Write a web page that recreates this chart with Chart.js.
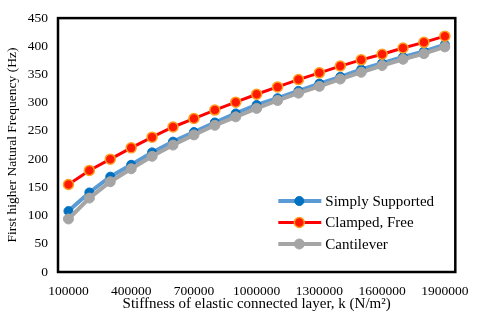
<!DOCTYPE html>
<html>
<head>
<meta charset="utf-8">
<script src="https://cdn.jsdelivr.net/npm/chart.js@4.4.1/dist/chart.umd.min.js"></script>
<style>
html, body { margin:0; padding:0; background:#fff; }
#wrap { width:480px; height:324px; }
</style>
</head>
<body>
<div id="wrap"><canvas id="freq" width="480" height="324"></canvas></div>
<script>
// stiffness k (N/m2)
var stiffness = [100000,200000,300000,400000,500000,600000,700000,800000,900000,1000000,
                 1100000,1200000,1300000,1400000,1500000,1600000,1700000,1800000,1900000];
var simply_supported = [108,141,169,190,212,231,248,265,281,296,308,321,334,346,359,370,381,391,403];
var clamped_free = [155,180,200,220,239,257,272,287,301,315,328,341,353,365,376,386,397,407,418];
var cantilever = [94,131,160,183,205,225,243,260,275,290,304,317,329,342,354,366,377,387,399];
var yTicks = [0,50,100,150,200,250,300,350,400,450];

var serif = "'Liberation Serif', 'Times New Roman', serif";
Chart.defaults.font.family = serif;
Chart.defaults.color = '#000';

// box round the plot area
var boxPlugin = {
    id: 'box',
    afterDatasetsDraw: function(chart) {
        var a = chart.chartArea, c = chart.ctx;
        c.save();
        c.strokeStyle = '#000';
        c.lineWidth = 2.5;
        c.strokeRect(a.left, a.top, a.right - a.left, a.bottom - a.top);
        c.restore();
    }
};

// legend sitting inside the plot, bottom right
var insideLegend = {
    id: 'insideLegend',
    afterDraw: function(chart) {
        var a = chart.chartArea, c = chart.ctx;
        var x0 = a.right - 177, x1 = a.right - 134, xm = a.right - 156;
        var y = a.bottom - 71;
        c.save();
        c.font = "15px " + serif;
        c.textBaseline = 'middle';
        chart.data.datasets.forEach(function(ds, i) {
            var yy = y + i * 21.5;
            c.strokeStyle = ds.borderColor;
            c.lineWidth = ds.borderWidth;
            c.beginPath(); c.moveTo(x0, yy); c.lineTo(x1, yy); c.stroke();
            c.beginPath(); c.arc(xm, yy, ds.pointRadius, 0, Math.PI*2);
            c.fillStyle = ds.pointBackgroundColor; c.fill();
            c.lineWidth = ds.pointBorderWidth; c.strokeStyle = ds.pointBorderColor; c.stroke();
            c.fillStyle = '#000';
            c.fillText(ds.label, x1 + 4, yy + 1);
        });
        c.restore();
    }
};

var ctx = document.getElementById('freq').getContext('2d');
new Chart(ctx, {
    type: 'line',
    data: {
        labels: stiffness,
        datasets: [{
            label: 'Simply Supported',
            data: simply_supported,
            borderColor: '#5B9BD5',
            borderWidth: 4,
            pointRadius: 4.5,
            pointBackgroundColor: '#0070C0',
            pointBorderColor: '#0070C0',
            pointBorderWidth: 1,
            order: 3
        }, {
            label: 'Clamped, Free',
            data: clamped_free,
            borderColor: '#FF0000',
            borderWidth: 3,
            pointRadius: 5,
            pointBackgroundColor: '#FF1A00',
            pointBorderColor: '#FFA020',
            pointBorderWidth: 1.5,
            order: 1
        }, {
            label: 'Cantilever',
            data: cantilever,
            borderColor: '#A5A5A5',
            borderWidth: 4,
            pointRadius: 5,
            pointBackgroundColor: '#A5A5A5',
            pointBorderColor: '#A5A5A5',
            pointBorderWidth: 1,
            order: 2
        }]
    },
    options: {
        responsive: false,
        animation: false,
        layout: { padding: { left: 4, right: 20, top: 5, bottom: 11 } },
        plugins: { legend: { display: false }, tooltip: { enabled: false } },
        scales: {
            x: {
                offset: true,
                grid: { display: false, drawTicks: false },
                border: { display: false },
                ticks: {
                    autoSkip: false,
                    maxRotation: 0,
                    padding: 11,
                    font: { size: 13.5 },
                    callback: function(v, i) { return i % 3 === 0 ? String(stiffness[i]) : ''; }
                },
                title: { display: true, text: 'Stiffness of elastic connected layer, k (N/m²)', font: { size: 15 }, padding: { top: 2, bottom: 0 } },
                afterFit: function(s) { s.height = 41; }
            },
            y: {
                min: 0, max: 450,
                grid: { display: false, drawTicks: false },
                border: { display: false },
                afterBuildTicks: function(s) { s.ticks = yTicks.map(function(v) { return { value: v }; }); },
                ticks: { padding: 10, font: { size: 13.5 } },
                title: { display: true, text: 'First higher Natural Frequency (Hz)', font: { size: 13.5 }, padding: { top: 0, bottom: 2 } },
                afterFit: function(s) { s.width = 54; }
            }
        }
    },
    plugins: [boxPlugin, insideLegend]
});
</script>
</body>
</html>
